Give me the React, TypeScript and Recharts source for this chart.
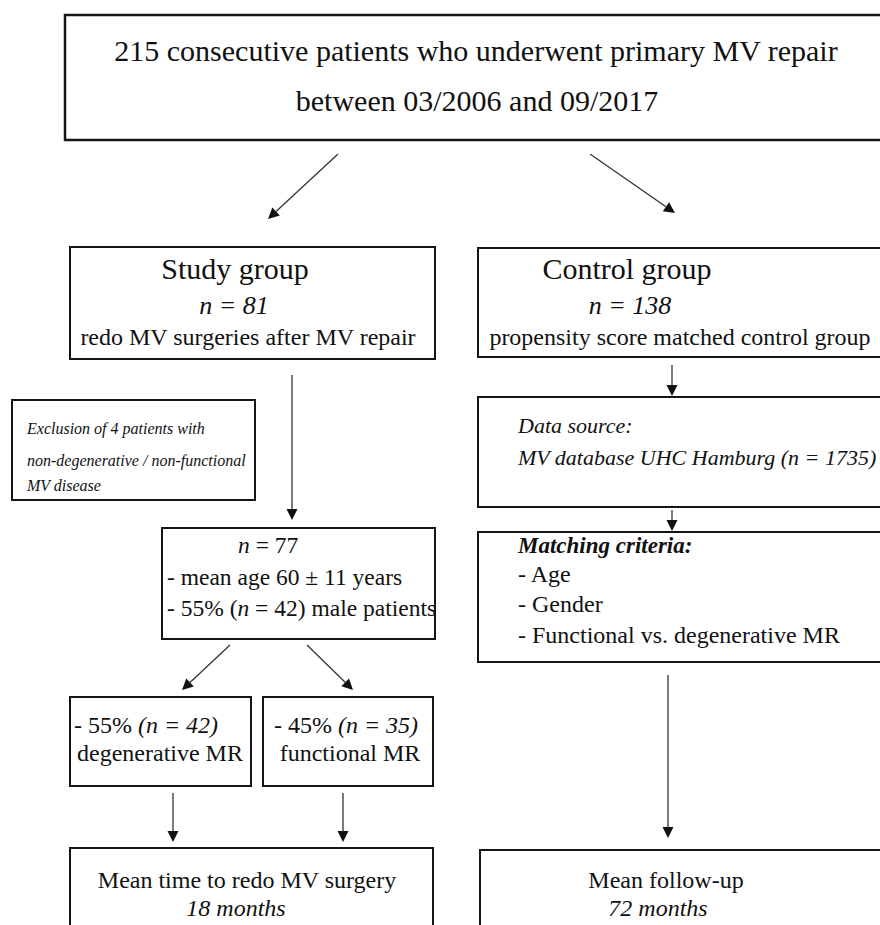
import { ScatterChart, Scatter, XAxis, YAxis, ReferenceArea, ReferenceLine } from 'recharts';

// text of each box; _..._ marks italic runs, *...* bold italic
const headerLines = ['215 consecutive patients who underwent primary MV repair', 'between 03/2006 and 09/2017'];
const studyLines = ['Study group', '_n = 81_', 'redo MV surgeries after MV repair'];
const controlLines = ['Control group', '_n = 138_', 'propensity score matched control group'];
const exclusionLines = ['_Exclusion of 4 patients with_', '_non-degenerative / non-functional_', '_MV disease_'];
const cohortLines = ['_n_ = 77', '- mean age 60 ± 11 years', '- 55% (_n_ = 42) male patients'];
const sourceLines = ['_Data source:_', '_MV database UHC Hamburg (n = 1735)_'];
const matchingLines = ['*Matching criteria:*', '- Age', '- Gender', '- Functional vs. degenerative MR'];
const degenerativeLines = ['- 55% _(n = 42)_', 'degenerative MR'];
const functionalLines = ['- 45% _(n = 35)_', 'functional MR'];
const redoLines = ['Mean time to redo MV surgery', '_18 months_'];
const followUpLines = ['Mean follow-up', '_72 months_'];

const W = 880;
const H = 925;
const FONT = '"Liberation Serif", "Times New Roman", serif';

// layout: box frames in chart units, line anchors, font sizes
type Box = {
  x1: number; x2: number; y1: number; y2: number; sw: number;
  lines: string[]; at: [number, number][]; size: number[]; anchor: 'start' | 'middle';
};

const boxes: Box[] = [
  { x1: 65, x2: 892, y1: 15, y2: 140, sw: 2.5, lines: headerLines, at: [[476, 50], [477, 100]], size: [30, 30], anchor: 'middle' },
  { x1: 70, x2: 435, y1: 247, y2: 359, sw: 2, lines: studyLines, at: [[235, 268], [234, 305], [248, 337]], size: [30, 26, 24], anchor: 'middle' },
  { x1: 478, x2: 892, y1: 248, y2: 357, sw: 2, lines: controlLines, at: [[627, 268], [630, 305], [680, 337]], size: [30, 26, 24], anchor: 'middle' },
  { x1: 12, x2: 255, y1: 400, y2: 500, sw: 2, lines: exclusionLines, at: [[27, 428], [27, 460], [27, 485]], size: [16, 16, 16], anchor: 'start' },
  { x1: 162, x2: 435, y1: 528, y2: 639, sw: 2, lines: cohortLines, at: [[238, 545], [167, 577], [167, 608]], size: [23.5, 23.5, 23.5], anchor: 'start' },
  { x1: 478, x2: 892, y1: 397, y2: 507, sw: 2, lines: sourceLines, at: [[518, 425], [518, 457]], size: [22, 22], anchor: 'start' },
  { x1: 478, x2: 892, y1: 532, y2: 662, sw: 2, lines: matchingLines, at: [[518, 545], [518, 574], [518, 604], [518, 635]], size: [23, 24, 24, 24], anchor: 'start' },
  { x1: 70, x2: 251, y1: 697, y2: 786, sw: 2, lines: degenerativeLines, at: [[146, 725], [160, 753]], size: [24, 24], anchor: 'middle' },
  { x1: 263, x2: 433, y1: 697, y2: 786, sw: 2, lines: functionalLines, at: [[346, 725], [350, 753]], size: [24, 24], anchor: 'middle' },
  { x1: 70, x2: 433, y1: 848, y2: 940, sw: 2, lines: redoLines, at: [[247, 880], [236, 908]], size: [24, 24], anchor: 'middle' },
  { x1: 480, x2: 892, y1: 850, y2: 940, sw: 2, lines: followUpLines, at: [[666, 880], [658, 908]], size: [24, 24], anchor: 'middle' },
];

// arrows: [from, to] in chart units
const arrows: [number, number, number, number][] = [
  [338, 154, 268, 219],
  [590, 154, 675, 213],
  [292, 375, 292, 520],
  [672, 365, 672, 396],
  [672, 510, 672, 531],
  [230, 645, 182, 690],
  [307, 645, 353, 690],
  [173, 793, 173, 842],
  [343, 793, 343, 842],
  [668, 675, 668, 838],
];

function runs(text: string) {
  return text.split(/(_[^_]*_|\*[^*]*\*)/).filter((s) => s.length > 0).map((s, i) => {
    if (s.startsWith('_')) return <tspan key={i} fontStyle="italic">{s.slice(1, -1)}</tspan>;
    if (s.startsWith('*')) return <tspan key={i} fontStyle="italic" fontWeight="bold">{s.slice(1, -1)}</tspan>;
    return <tspan key={i}>{s}</tspan>;
  });
}

function boxText(box: Box) {
  return (props: any) => {
    const vb = props.viewBox || {};
    const kx = vb.width / (box.x2 - box.x1);
    const ky = vb.height / (box.y2 - box.y1);
    return (
      <g>
        {box.lines.map((line, i) => (
          <text
            key={i}
            x={vb.x + (box.at[i][0] - box.x1) * kx}
            y={vb.y + (box.at[i][1] - box.y1) * ky}
            textAnchor={box.anchor}
            dominantBaseline="central"
            fontFamily={FONT}
            fontSize={box.size[i]}
            fill="#111"
          >
            {runs(line)}
          </text>
        ))}
      </g>
    );
  };
}

const Arrow = (p: any) => {
  const { x1, y1, x2, y2 } = p;
  const a = Math.atan2(y2 - y1, x2 - x1);
  const len = 11;
  const half = 5.5;
  const bx = x2 - len * Math.cos(a);
  const by = y2 - len * Math.sin(a);
  const pts = [
    [x2, y2],
    [bx + half * Math.sin(a), by - half * Math.cos(a)],
    [bx - half * Math.sin(a), by + half * Math.cos(a)],
  ].map((q) => q.join(',')).join(' ');
  return (
    <g>
      <line x1={x1} y1={y1} x2={bx} y2={by} stroke="#333" strokeWidth={1.3} />
      <polygon points={pts} fill="#111" />
    </g>
  );
};

export default function App() {
  return (
    <div style={{ position: 'absolute', left: 0, top: 0, width: W, height: H, background: '#fff' }}>
      <ScatterChart width={W} height={H} margin={{ top: 0, right: 0, bottom: 0, left: 0 }}>
        <XAxis type="number" dataKey="x" domain={[0, W]} allowDataOverflow hide />
        <YAxis type="number" dataKey="y" domain={[0, H]} allowDataOverflow reversed hide />
        <Scatter data={[]} isAnimationActive={false} />
        {boxes.map((b, i) => (
          <ReferenceArea
            key={'b' + i}
            x1={b.x1}
            x2={b.x2}
            y1={b.y1}
            y2={b.y2}
            ifOverflow="hidden"
            fill="#fff"
            fillOpacity={1}
            stroke="#151515"
            strokeWidth={b.sw}
            label={boxText(b)}
          />
        ))}
        {arrows.map((a, i) => (
          <ReferenceLine
            key={'a' + i}
            segment={[{ x: a[0], y: a[1] }, { x: a[2], y: a[3] }]}
            ifOverflow="visible"
            shape={Arrow}
          />
        ))}
      </ScatterChart>
    </div>
  );
}
